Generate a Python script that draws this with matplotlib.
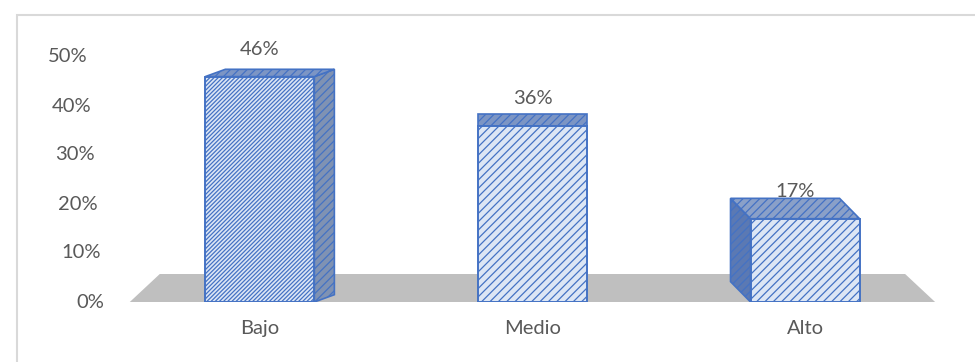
import matplotlib.pyplot as plt
from matplotlib.patches import Polygon, Rectangle

categories = ['Bajo', 'Medio', 'Alto']
values = [0.46, 0.36, 0.17]
value_labels = ['46%', '36%', '17%']
tick_values = [0.0, 0.1, 0.2, 0.3, 0.4, 0.5]
tick_labels = ['0%', '10%', '20%', '30%', '40%', '50%']

TEXT = '#595959'
EDGE = '#4472c4'
FRONT = '#dce6f5'
plt.rcParams['font.family'] = ['Lato', 'DejaVu Sans']
plt.rcParams['hatch.linewidth'] = 0.9

fig = plt.figure(figsize=(9.75, 3.62), dpi=100)
ax = fig.add_axes([69 / 975, 60 / 362, (955 - 69) / 975, (302 - 32.5) / 362])
ax.set_xlim(-0.7, 2.55)
ax.set_ylim(0, 0.55)
ax.axis('off')

# pixel -> data scale, used for the fake depth of the boxes
px_x = 1 / 272.5
px_y = 1 / 490.0

# gray floor under the columns
floor = Polygon([(-0.477, 0), (2.477, 0), (2.367, 28 * px_y), (-0.367, 28 * px_y)],
                closed=True, facecolor='#bfbfbf', edgecolor='none', zorder=1)
ax.add_patch(floor)

width = 0.4
hatches = ['////////', '////', '////']
side_colors = ['#7f92b3', None, '#5b79b3']
top_colors = ['#7c95c4', '#7c95c4', '#8aa0c8']
fs = 14.5

for i, (cat, v) in enumerate(zip(categories, values)):
    x0, x1 = i - width / 2, i + width / 2
    dx = (1 - i) * 20 * px_x
    dy = (28 - 0.45 * v * 100) * px_y

    if dx > 0:
        side = [(x1, 0), (x1, v), (x1 + dx, v + dy), (x1 + dx, dy)]
    elif dx < 0:
        side = [(x0, 0), (x0, v), (x0 + dx, v + dy), (x0 + dx, dy)]
    else:
        side = None
    if side:
        ax.add_patch(Polygon(side, closed=True, facecolor=side_colors[i],
                             edgecolor=EDGE, hatch='////', lw=1.2, zorder=2))
    top = [(x0, v), (x1, v), (x1 + dx, v + dy), (x0 + dx, v + dy)]
    ax.add_patch(Polygon(top, closed=True, facecolor=top_colors[i],
                         edgecolor=EDGE, hatch='////', lw=1.2, zorder=2))
    ax.bar(i, v, width=width, color=FRONT, edgecolor=EDGE, hatch=hatches[i],
           linewidth=1.4, zorder=3)

    ax.text(i + min(dx, 0) / 2, v + 0.055, value_labels[i], ha='center', va='center',
            fontsize=fs, color=TEXT, zorder=4)
    ax.text(i, -18 * px_y, cat, ha='center', va='top', fontsize=fs,
            color=TEXT, clip_on=False)

# axis labels lean slightly with the perspective of the floor
for v, lab in zip(tick_values, tick_labels):
    xr = -0.569 - (v / 0.5) * 0.062
    ax.text(xr, v, lab, ha='right', va='center', fontsize=fs, color=TEXT)

fig.patches.append(Rectangle((17 / 975, -0.1), 1.2, (1 - 15 / 362) + 0.1,
                             transform=fig.transFigure, fill=False,
                             edgecolor='#d9d9d9', lw=1.5))

fig.savefig('out.png', dpi=100)
